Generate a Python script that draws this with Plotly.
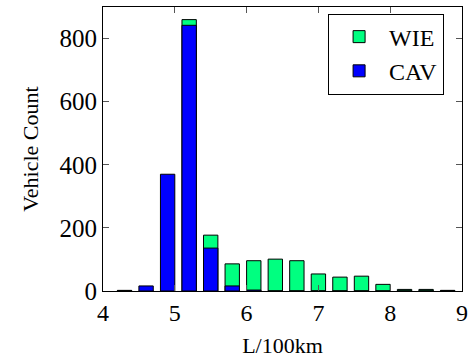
import plotly.graph_objects as go

centers = [4.3, 4.6, 4.9, 5.2, 5.5, 5.8, 6.1, 6.4, 6.7, 7.0, 7.3, 7.6, 7.9, 8.2, 8.5, 8.8]
wie = [2, 0, 0, 860, 177, 86, 96, 101, 96, 54, 44, 47, 21, 5, 5, 2]
cav = [0, 16, 370, 842, 136, 16, 3, 0, 0, 0, 0, 0, 0, 0, 0, 0]
x_ticks = [4, 5, 6, 7, 8, 9]
y_ticks = [0, 200, 400, 600, 800]

font = "Liberation Serif"

fig = go.Figure()
fig.add_trace(go.Bar(x=centers, y=wie, name="WIE", width=0.2,
                     marker=dict(color="#00FF80", line=dict(color="black", width=1)), opacity=1))
fig.add_trace(go.Bar(x=centers, y=cav, name="CAV", width=0.2,
                     marker=dict(color="#0000FF", line=dict(color="black", width=1)), opacity=1))

fig.update_layout(
    width=468, height=358,
    margin=dict(l=103, r=6, t=7, b=67),
    barmode="overlay",
    plot_bgcolor="white", paper_bgcolor="white",
    font=dict(family=font, size=20, color="black"),
    legend=dict(x=0.627, y=0.977, xanchor="left", yanchor="top",
                bordercolor="black", borderwidth=1, bgcolor="white", itemwidth=50,
                font=dict(family=font, size=24), traceorder="normal", tracegroupgap=0),
)
fig.update_xaxes(range=[4, 9], tickvals=x_ticks, ticks="inside", ticklen=6, tickcolor="#555",
                 showline=True, linecolor="black", linewidth=1, mirror="ticks", showgrid=False,
                 zeroline=False, automargin=False,
                 title=dict(text="L/100km", font=dict(size=22), standoff=12),
                 tickfont=dict(size=24))
fig.update_yaxes(range=[0, 900], tickvals=y_ticks, ticks="inside", ticklen=6, tickcolor="#555",
                 showline=True, linecolor="black", linewidth=1, mirror="ticks", showgrid=False,
                 zeroline=False, automargin=False,
                 title=dict(text="Vehicle Count", font=dict(size=22), standoff=14),
                 tickfont=dict(size=25))

fig.write_html("out.html", config={"displayModeBar": False},
               post_script="document.body.style.margin='0';")
